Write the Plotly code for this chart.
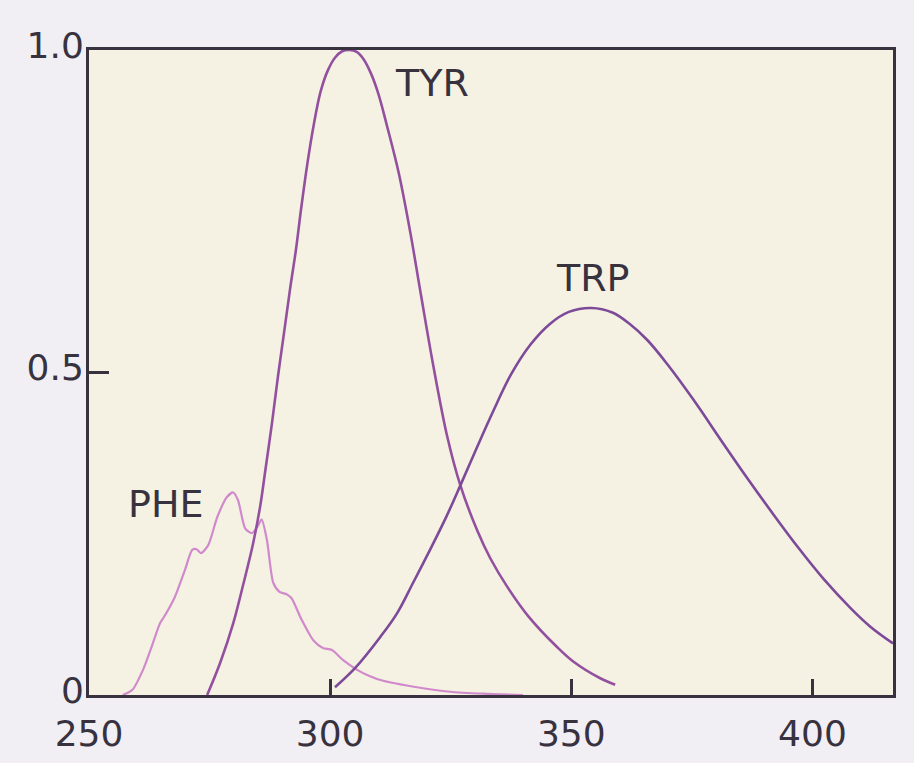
import plotly.graph_objects as go

# Wavelength (nm) and relative intensity
tyr_x = [274.5, 277.2, 279.9, 282.0, 284.0, 285.5, 286.5, 288.0, 289.2, 290.5, 291.7,
         292.9, 294.0, 295.3, 296.5, 298.0, 299.5, 301.0, 302.5, 304.0, 305.5, 307.0,
         308.5, 310.0, 311.8, 314.2, 316.6, 318.7, 321.4, 324.3, 327.0, 330.5, 333.2,
         336.7, 341.1, 347.1, 350.4, 356.0, 359.1]
tyr_y = [0.0, 0.050, 0.111, 0.172, 0.234, 0.293, 0.345, 0.425, 0.495, 0.565, 0.630,
         0.690, 0.755, 0.825, 0.880, 0.935, 0.968, 0.988, 0.998, 1.0, 0.997, 0.985,
         0.963, 0.932, 0.882, 0.810, 0.718, 0.626, 0.510, 0.400, 0.325, 0.255, 0.212,
         0.168, 0.122, 0.074, 0.052, 0.026, 0.016]

trp_x = [301.0, 305.2, 310.4, 313.9, 317.2, 320.7, 324.0, 327.0, 330.5, 333.8, 337.5,
         341.5, 345.5, 349.5, 354.2, 358.5, 362.0, 365.8, 370.0, 375.3, 381.5, 386.5,
         391.9, 397.0, 402.3, 408.0, 412.0, 416.7]
trp_y = [0.012, 0.042, 0.090, 0.127, 0.174, 0.225, 0.275, 0.325, 0.385, 0.440, 0.497,
         0.543, 0.575, 0.594, 0.600, 0.593, 0.576, 0.550, 0.512, 0.458, 0.390, 0.336,
         0.280, 0.229, 0.180, 0.134, 0.106, 0.080]

phe_x = [257.0, 259.0, 261.2, 263.0, 264.7, 265.8, 267.8, 269.9, 271.4, 272.3, 273.2,
         274.7, 276.6, 278.6, 279.9, 280.9, 282.4, 283.8, 285.0, 285.8, 286.9, 288.2,
         289.5, 291.0, 292.0, 294.0, 296.5, 298.5, 300.3, 302.7, 305.6, 308.0, 311.0,
         318.0, 324.9, 331.7, 340.0]
phe_y = [0.0, 0.008, 0.039, 0.075, 0.111, 0.124, 0.152, 0.194, 0.225, 0.226, 0.220,
         0.232, 0.276, 0.307, 0.314, 0.302, 0.258, 0.251, 0.262, 0.272, 0.240, 0.174,
         0.160, 0.156, 0.150, 0.118, 0.085, 0.073, 0.070, 0.054, 0.039, 0.030, 0.022,
         0.012, 0.005, 0.002, 0.0]

x_tickvals = [250, 300, 350, 400]
x_ticktext = ["250", "300", "350", "400"]
y_tickvals = [0, 0.5, 1.0]
y_ticktext = ["0", "0.5", "1.0"]

labels = ["TYR", "TRP", "PHE"]
label_x = [321.2, 354.4, 266.0]
label_y = [0.949, 0.647, 0.296]

ink = "#38323f"
fig = go.Figure()
fig.add_trace(go.Scatter(x=phe_x, y=phe_y, mode="lines",
                         line=dict(color="#d08acb", width=2.2, shape="spline", smoothing=0.7)))
fig.add_trace(go.Scatter(x=tyr_x, y=tyr_y, mode="lines",
                         line=dict(color="#93509f", width=2.6, shape="spline", smoothing=1.0)))
fig.add_trace(go.Scatter(x=trp_x, y=trp_y, mode="lines",
                         line=dict(color="#7d4a99", width=2.6, shape="spline", smoothing=1.0)))

for t, lx, ly in zip(labels, label_x, label_y):
    fig.add_annotation(x=lx, y=ly, text=t, showarrow=False,
                       font=dict(family="DejaVu Sans", size=38, color=ink))

fig.update_layout(
    width=914, height=763,
    margin=dict(l=89, r=21, t=50, b=68),
    paper_bgcolor="#f1eff4",
    plot_bgcolor="#f5f2e3",
    showlegend=False,
    font=dict(family="DejaVu Sans", size=36, color=ink),
)
fig.update_xaxes(range=[250, 416.7], tickvals=x_tickvals, ticktext=x_ticktext,
                 ticks="inside", ticklen=16, tickwidth=3, tickcolor=ink,
                 showline=True, linecolor=ink, linewidth=3, mirror=True,
                 showgrid=False, zeroline=False, ticklabelstandoff=5,
                 automargin=False)
fig.update_yaxes(range=[0, 1.0], tickvals=y_tickvals, ticktext=y_ticktext,
                 ticks="inside", ticklen=20, tickwidth=3, tickcolor=ink,
                 showline=True, linecolor=ink, linewidth=3, mirror=True,
                 showgrid=False, zeroline=False, ticklabelstandoff=-5,
                 ticklabelshift=-5, automargin=False)

fig.write_html("out.html")
